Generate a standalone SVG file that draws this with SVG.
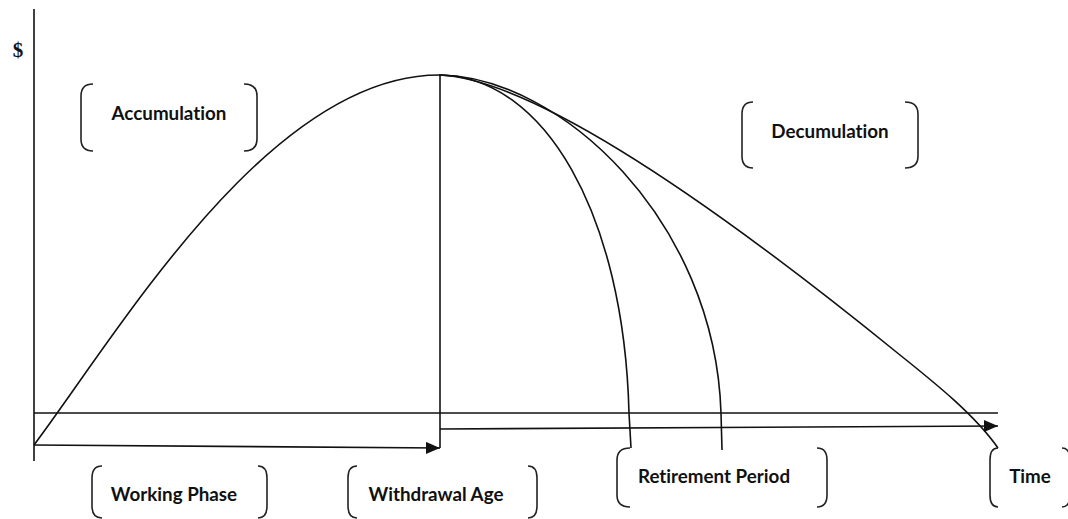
<svg xmlns="http://www.w3.org/2000/svg" width="1068" height="519" viewBox="0 0 1068 519">
<style>
.ln{fill:none;stroke:#111;stroke-width:1.6}
.br{fill:none;stroke:#222;stroke-width:1.6}
.lb{font-family:Lato,"Open Sans","Liberation Sans",sans-serif;font-weight:700;font-size:18.8px;fill:#111;text-anchor:middle;font-variant-ligatures:none;font-feature-settings:"liga" 0,"dlig" 0}
</style>
<defs>
<marker id="ah" viewBox="0 0 14 12" refX="14" refY="6" markerWidth="14" markerHeight="12" markerUnits="userSpaceOnUse" orient="auto">
<path d="M0,0 L14,6 L0,12 Z" fill="#111"/>
</marker>
</defs>
<rect width="1068" height="519" fill="#fff"/>
<g id="axes">
<line class="ln" x1="34" y1="9" x2="34" y2="461"/>
<line class="ln" x1="34" y1="413" x2="998" y2="413"/>
<text x="18" y="57" font-family="Liberation Serif,serif" font-weight="700" font-size="21" fill="#111" text-anchor="middle">$</text>
</g>
<g id="connectors">
<path class="ln" d="M34,445 C120,330 270,75 439,75"/>
<line class="ln" x1="440" y1="75" x2="440" y2="448"/>
<line class="ln" x1="34" y1="445" x2="440" y2="448" marker-end="url(#ah)"/>
<line class="ln" x1="440" y1="429" x2="998" y2="426" marker-end="url(#ah)"/>
<path class="ln" d="M439,75 C545,76 624,215 629,413 L631,448"/>
<path class="ln" d="M439,75 C560,76 715,220 721,413 L722,450"/>
<path class="ln" d="M439,75 C560,80 820,290 900,355 C935,383 975,415 998,448"/>
</g>
<g id="accumulation">
<path class="br" d="M93,84 Q81,84 81,96 L81,139 Q81,151 93,151"/>
<path class="br" d="M244,84 Q257,84 257,96 L257,139 Q257,151 244,151"/>
<text class="lb" x="169" y="120">Accumulation</text>
</g>
<g id="decumulation">
<path class="br" d="M753,102 Q742,102 742,114 L742,156 Q742,168 753,168"/>
<path class="br" d="M905,102 Q918,102 918,114 L918,156 Q918,168 905,168"/>
<text class="lb" x="830" y="138">Decumulation</text>
</g>
<g id="working-phase">
<path class="br" d="M102,466 Q92,466 92,478 L92,506 Q92,518 102,518"/>
<path class="br" d="M258,466 Q267,466 267,478 L267,506 Q267,518 258,518"/>
<text class="lb" x="174" y="501">Working Phase</text>
</g>
<g id="withdrawal-age">
<path class="br" d="M357,466 Q348,466 348,478 L348,506 Q348,518 357,518"/>
<path class="br" d="M528,466 Q537,466 537,478 L537,506 Q537,518 528,518"/>
<text class="lb" x="436" y="501">Withdrawal Age</text>
</g>
<g id="retirement-period">
<path class="br" d="M630,448 Q617,448 617,460 L617,495 Q617,507 630,507"/>
<path class="br" d="M817,448 Q827,448 827,460 L827,495 Q827,507 817,507"/>
<text class="lb" x="714" y="483">Retirement Period</text>
</g>
<g id="time">
<path class="br" d="M998,448 Q990,448 990,460 L990,495 Q990,507 998,507"/>
<path class="br" d="M1062,448 Q1070,448 1070,460 L1070,495 Q1070,507 1062,507"/>
<text class="lb" x="1030" y="483">Time</text>
</g>
</svg>
